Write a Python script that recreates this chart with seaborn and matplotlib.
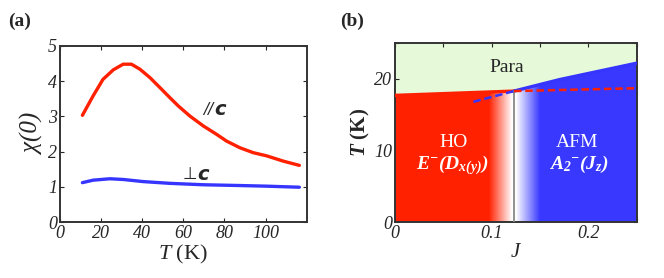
import numpy as np
import pandas as pd
import matplotlib
matplotlib.use("Agg")
import matplotlib.pyplot as plt
from matplotlib.patches import Polygon
import seaborn as sns

# ---------------- data: panel (a) ----------------
T_par = [11, 16.2, 21, 26, 30.8, 34.8, 38.9, 43.8, 48.6, 53.5, 57.5, 63.2, 69.7, 76.2, 81,
         87.5, 94, 100.5, 108.6, 116.4]
chi_par = [3.03, 3.58, 4.05, 4.32, 4.48, 4.48, 4.34, 4.10, 3.82, 3.53, 3.30, 3.01, 2.73, 2.49,
           2.30, 2.11, 1.97, 1.88, 1.73, 1.61]
T_perp = [11, 16.2, 24.3, 30.8, 40.5, 53.5, 69.7, 86, 100.5, 116.4]
chi_perp = [1.12, 1.19, 1.23, 1.21, 1.15, 1.10, 1.06, 1.04, 1.02, 0.99]

# ---------------- data: panel (b) ----------------
J_ho = [0.0, 0.123]
T_ho = [17.7, 18.3]
J_afm = [0.123, 0.17, 0.25]
T_afm = [18.3, 19.9, 22.2]
J_ho_ext = [0.123, 0.25]
T_ho_ext = [18.3, 18.7]
J_afm_ext = [0.081, 0.123]
T_afm_ext = [16.8, 18.3]
J_c = 0.123

# colour stops of the HO -> AFM crossover
grad_J = [0.0, 0.097, 0.121, 0.125, 0.150, 0.25]
grad_rgb = [(1.0, 0.13, 0.0), (1.0, 0.13, 0.0), (1.0, 1.0, 1.0),
            (1.0, 1.0, 1.0), (0.22, 0.22, 1.0), (0.22, 0.22, 1.0)]

RED = "#ff2000"
BLUE = "#3535ff"
GREEN = "#e6f9d9"

sns.set_style("ticks")
plt.rcParams["font.family"] = ["Liberation Serif", "DejaVu Serif"]
plt.rcParams["mathtext.fontset"] = "custom"
plt.rcParams["mathtext.rm"] = "Liberation Serif"
plt.rcParams["mathtext.it"] = "Liberation Serif:italic"
plt.rcParams["mathtext.bf"] = "Liberation Serif:bold:italic"
plt.rcParams["xtick.direction"] = "in"
plt.rcParams["ytick.direction"] = "in"

fig = plt.figure(figsize=(6.64, 2.78), dpi=100)
ax1 = fig.add_axes([0.090, 0.201, 0.372, 0.634])
ax2 = fig.add_axes([0.595, 0.201, 0.364, 0.644])

# =========================================================
# PANEL (a)
# =========================================================
df_par = pd.DataFrame({"T": T_par, "chi": chi_par})
df_perp = pd.DataFrame({"T": T_perp, "chi": chi_perp})
sns.lineplot(data=df_par, x="T", y="chi", color=RED, lw=2.4, ax=ax1)
sns.lineplot(data=df_perp, x="T", y="chi", color=BLUE, lw=2.4, ax=ax1)

ax1.set_xlim(0, 120)
ax1.set_ylim(0, 5)
ax1.set_xticks([0, 20, 40, 60, 80, 100])
ax1.set_yticks([0, 1, 2, 3, 4, 5])
ax1.set_xlabel("$T$ (K)", fontsize=16, labelpad=1)
ax1.set_ylabel("χ(0)", fontsize=18, style="italic", labelpad=2)
ax1.text(74.5, 3.2, "//", fontsize=11, family="DejaVu Sans", style="italic",
         ha="right", va="center")
ax1.text(75, 3.2, "c", fontsize=14, family="DejaVu Sans", style="italic",
         weight="bold", ha="left", va="center")
ax1.text(66.5, 1.36, "⊥", fontsize=12, family="DejaVu Sans",
         ha="right", va="center")
ax1.text(67, 1.36, "c", fontsize=14, family="DejaVu Sans", style="italic",
         weight="bold", ha="left", va="center")

# =========================================================
# PANEL (b)
# =========================================================
ax2.set_facecolor(GREEN)
jj = np.linspace(0, 0.25, 600)
img = np.stack([np.interp(jj, grad_J, [c[k] for c in grad_rgb]) for k in range(3)], axis=-1)
im = ax2.imshow(img[np.newaxis, :, :], extent=[0, 0.25, 0, 25], aspect="auto",
                origin="lower", zorder=1)
bound_J = J_ho + J_afm[1:]
bound_T = T_ho + T_afm[1:]
poly = Polygon(list(zip([0.0] + bound_J + [0.25], [0.0] + bound_T + [0.0])),
               closed=True, transform=ax2.transData)
im.set_clip_path(poly)

sns.lineplot(x=J_ho, y=T_ho, color=RED, lw=2.4, ax=ax2, zorder=3)
sns.lineplot(x=J_afm, y=T_afm, color=BLUE, lw=2.4, ax=ax2, zorder=3)
ax2.plot(J_ho_ext, T_ho_ext, color=RED, lw=1.8, ls=(0, (3, 1.5)), zorder=4)
ax2.plot(J_afm_ext, T_afm_ext, color=BLUE, lw=1.8, ls=(0, (3, 1.5)), zorder=4)
ax2.plot([J_c, J_c], [0, T_ho[-1]], color="#888888", lw=1.3, zorder=3)

ax2.set_xlim(0, 0.25)
ax2.set_ylim(0, 25)
ax2.set_xticks([0, 0.05, 0.1, 0.15, 0.2, 0.25])
ax2.set_xticklabels(["0", "", "0.1", "", "0.2", ""])
ax2.set_yticks([0, 5, 10, 15, 20, 25])
ax2.set_yticklabels(["0", "", "10", "", "20", ""])
ax2.set_xlabel("$J$", fontsize=15, labelpad=1)
ax2.set_ylabel(r"$\mathbf{T}$ (K)", fontsize=15, weight="bold", labelpad=2)

ax2.text(0.115, 21.6, "Para", fontsize=14, ha="center", va="center", zorder=5)
ax2.text(0.060, 11.1, "HO", fontsize=14, color="white", ha="center", va="center", zorder=5)
ax2.text(0.059, 8.0, r"$\mathbf{E^{-}(D_{x(y)})}$", fontsize=14, color="white",
         ha="center", va="center", zorder=5)
ax2.text(0.188, 11.1, "AFM", fontsize=14, color="white", ha="center", va="center", zorder=5)
ax2.text(0.190, 8.0, r"$\mathbf{A_{2}{}^{-}(J_{z})}$", fontsize=14, color="white",
         ha="center", va="center", zorder=5)

for ax in (ax1, ax2):
    ax.tick_params(top=True, right=True, labelsize=13, length=3, width=0.8, pad=2)
    for lab in ax.get_xticklabels() + ax.get_yticklabels():
        lab.set_style("italic")
    for sp in ax.spines.values():
        sp.set_linewidth(1.4)
        sp.set_color("#333333")

fig.text(0.012, 0.905, "(a)", fontsize=14, weight="bold")
fig.text(0.512, 0.905, "(b)", fontsize=14, weight="bold")

fig.savefig("out.png", dpi=100)
